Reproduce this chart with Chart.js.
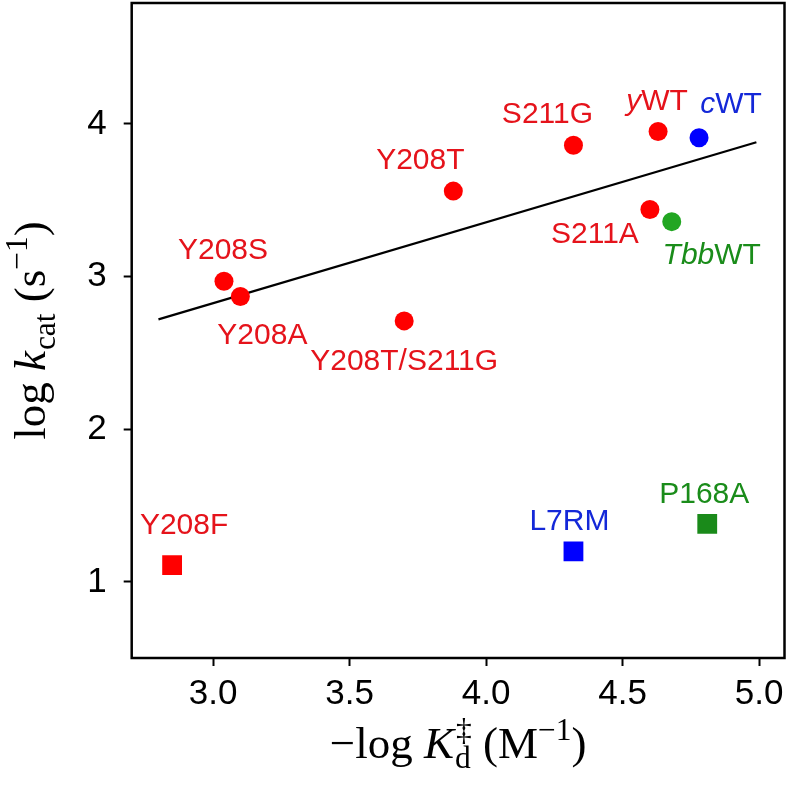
<!DOCTYPE html>
<html><head><meta charset="utf-8">
<script src="https://cdn.jsdelivr.net/npm/chart.js@4"></script>
<style>html,body{margin:0;padding:0;background:#fff}canvas{display:block}</style>
</head><body>
<canvas id="c" width="790" height="795"></canvas>
<script>
// ---- data ----
const circleLabels = ['Y208S','Y208A','Y208T','Y208T/S211G','S211G','yWT','S211A','cWT','TbbWT'];
const circleSource = ['yeast','yeast','yeast','yeast','yeast','yeast','yeast','chicken','Tbb'];
const circleX = [3.04, 3.10, 3.88, 3.70, 4.32, 4.63, 4.60, 4.78, 4.68];
const circleY = [2.97, 2.87, 3.56, 2.71, 3.86, 3.95, 3.44, 3.91, 3.36];
const squareLabels = ['Y208F','L7RM','P168A'];
const squareSource = ['yeast','chicken','Tbb'];
const squareX = [2.85, 4.32, 4.81];
const squareY = [1.11, 1.20, 1.38];
const fitX = [2.80, 4.99];
const fitY = [2.72, 3.88];
const xTicks = [3.0, 3.5, 4.0, 4.5, 5.0];
const yTicks = [1, 2, 3, 4];

// ---- styles ----
const pointColor = {yeast:'#ff0000', chicken:'#0000ff', Tbb:'#22a622'};
const squareColor = {yeast:'#ff0000', chicken:'#0000ff', Tbb:'#1a8a1a'};
const textColor = {yeast:'#e5131b', chicken:'#1428d8', Tbb:'#1a8c1a'};
const italicPrefix = {yWT:1, cWT:1, TbbWT:3};
const labelOffset = {
  'Y208S':[-1,-33], 'Y208A':[22,37], 'Y208T':[-33,-33], 'Y208T/S211G':[0,38],
  'S211G':[-26,-33], 'yWT':[-1,-32], 'S211A':[-55,23], 'cWT':[32,-35], 'TbbWT':[40,32],
  'Y208F':[12,-42], 'L7RM':[-4,-32], 'P168A':[-3,-32]
};
const PLOT_BOX = {left:131.7, top:3, right:784.5, bottom:658};
const SANS = '"Liberation Sans", Arial, Helvetica, sans-serif';
const SERIF = '"Liberation Serif", "Times New Roman", serif';

function byGroup(labels, src, xs, ys, grp){
  const out = [];
  labels.forEach((l,i)=>{ if(src[i]===grp) out.push({x:xs[i], y:ys[i], label:l, src:grp}); });
  return out;
}
const datasets = [];
['yeast','chicken','Tbb'].forEach(g=>{
  datasets.push({type:'scatter', data:byGroup(circleLabels,circleSource,circleX,circleY,g),
    pointStyle:'circle', pointRadius:9.5, backgroundColor:pointColor[g], borderWidth:0});
  datasets.push({type:'scatter', data:byGroup(squareLabels,squareSource,squareX,squareY,g),
    pointStyle:'rect', pointRadius:14, backgroundColor:squareColor[g], borderWidth:0});
});
datasets.push({type:'line', data:fitX.map((x,i)=>({x:x, y:fitY[i]})), borderColor:'#000',
  borderWidth:2.2, pointRadius:0, fill:false, tension:0});

const boxPlugin = {
  id:'box',
  afterLayout(chart){
    const a = chart.chartArea, b = PLOT_BOX;
    a.left = b.left; a.top = b.top; a.right = b.right; a.bottom = b.bottom;
    a.width = b.right - b.left; a.height = b.bottom - b.top;
    const x = chart.scales.x, y = chart.scales.y;
    x.left = b.left; x.right = b.right; x.width = b.right - b.left;
    x.top = b.bottom; x.bottom = chart.height; x.height = chart.height - b.bottom;
    y.top = b.top; y.bottom = b.bottom; y.height = b.bottom - b.top;
    y.left = 0; y.right = b.left; y.width = b.left;
    x.configure(); y.configure();
  }
};

const labelPlugin = {
  id:'labels',
  afterDatasetsDraw(chart){
    const ctx = chart.ctx;
    const fs = 30;
    chart.data.datasets.forEach((ds,di)=>{
      if(ds.type==='line') return;
      const meta = chart.getDatasetMeta(di);
      meta.data.forEach((el,j)=>{
        const d = ds.data[j];
        const off = labelOffset[d.label] || [0,-30];
        const n = italicPrefix[d.label] || 0;
        const p1 = d.label.slice(0,n), p2 = d.label.slice(n);
        ctx.save();
        ctx.fillStyle = textColor[d.src];
        ctx.textBaseline = 'alphabetic';
        ctx.textAlign = 'left';
        ctx.font = 'italic ' + fs + 'px ' + SANS;
        const w1 = ctx.measureText(p1).width;
        ctx.font = fs + 'px ' + SANS;
        const w2 = ctx.measureText(p2).width;
        const x0 = el.x + off[0] - (w1+w2)/2;
        const yb = el.y + off[1] + 0.716*fs/2;
        ctx.font = 'italic ' + fs + 'px ' + SANS;
        ctx.fillText(p1, x0, yb);
        ctx.font = fs + 'px ' + SANS;
        ctx.fillText(p2, x0 + w1, yb);
        ctx.restore();
      });
    });
  }
};

function fontStr(it, size){ return (it?'italic ':'') + size + 'px ' + SERIF; }
function drawRich(ctx, parts, cx, by, fs){
  const sc = 0.7;
  const widths = parts.map(p=>{
    if(p.stack){ ctx.font = fontStr(false, fs*sc); return Math.max(ctx.measureText(p.sub).width, ctx.measureText(p.sup).width) + 2; }
    ctx.font = fontStr(p.it, (p.sub||p.sup)? fs*sc : fs);
    return ctx.measureText(p.t).width + (p.sub?1:0);
  });
  const total = widths.reduce((a,b)=>a+b,0);
  let x = cx - total/2;
  ctx.textAlign = 'left';
  ctx.textBaseline = 'alphabetic';
  parts.forEach((p,i)=>{
    if(p.stack){
      ctx.font = fontStr(false, fs*sc);
      ctx.fillText(p.sub, x + 1, by + fs*0.22);
      ctx.fillText(p.sup, x + 2, by - fs*0.40);
    } else if(p.sub){
      ctx.font = fontStr(p.it, fs*sc);
      ctx.fillText(p.t, x + 1, by + fs*0.22);
    } else if(p.sup){
      ctx.font = fontStr(p.it, fs*sc);
      ctx.fillText(p.t, x, by - fs*0.40);
    } else {
      ctx.font = fontStr(p.it, fs);
      ctx.fillText(p.t, x, by);
    }
    x += widths[i];
  });
}

const framePlugin = {
  id:'frame',
  afterDraw(chart){
    const ctx = chart.ctx, a = chart.chartArea;
    ctx.save();
    ctx.strokeStyle = '#000';
    ctx.lineWidth = 2.5;
    ctx.strokeRect(a.left, a.top, a.right - a.left, a.bottom - a.top);
    ctx.fillStyle = '#000';
    // x title
    drawRich(ctx, [{t:'\u2212log '},{t:'K',it:true},{stack:true,sub:'d',sup:'\u2021'},{t:' (M'},{t:'\u22121',sup:true},{t:')'}],
      (a.left + a.right)/2, 758, 45);
    // y title
    ctx.translate(45, (a.top + a.bottom)/2);
    ctx.rotate(-Math.PI/2);
    drawRich(ctx, [{t:'log '},{t:'k',it:true},{t:'cat',sub:true},{t:' (s'},{t:'\u22121',sup:true},{t:')'}], 0, 0, 45);
    ctx.restore();
  }
};

new Chart(document.getElementById('c'), {
  data:{datasets:datasets},
  options:{
    responsive:false, devicePixelRatio:1, animation:false,
    plugins:{legend:{display:false}, tooltip:{enabled:false}},
    scales:{
      x:{type:'linear', min:2.702, max:5.093,
        afterBuildTicks:s=>{ s.ticks = xTicks.map(v=>({value:v})); },
        border:{display:false},
        grid:{display:true, drawOnChartArea:false, drawTicks:true, tickLength:8, tickColor:'#000', tickWidth:2},
        ticks:{color:'#000', padding:7, font:{family:SANS, size:35}, callback:v=>Number(v).toFixed(1), maxRotation:0, autoSkip:false}
      },
      y:{type:'linear', min:0.502, max:4.792,
        afterBuildTicks:s=>{ s.ticks = yTicks.map(v=>({value:v})); },
        border:{display:false},
        grid:{display:true, drawOnChartArea:false, drawTicks:true, tickLength:8, tickColor:'#000', tickWidth:2},
        ticks:{color:'#000', padding:17, font:{family:SANS, size:35}, callback:v=>String(v), autoSkip:false}
      }
    }
  },
  plugins:[boxPlugin, labelPlugin, framePlugin]
});
</script>
</body></html>
